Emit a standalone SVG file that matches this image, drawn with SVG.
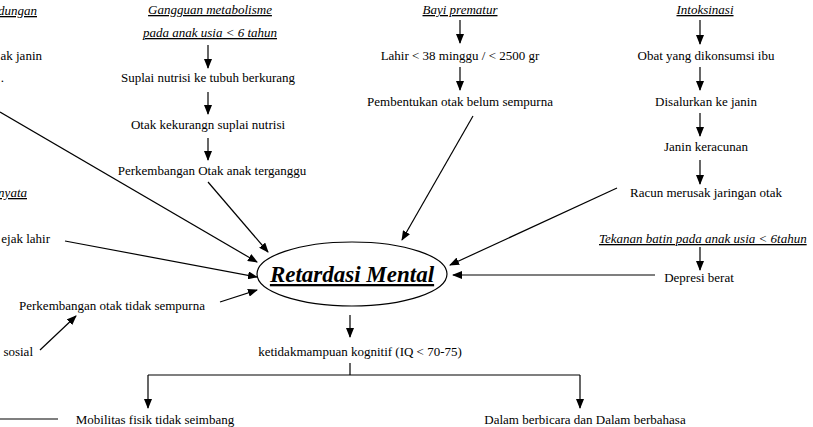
<svg xmlns="http://www.w3.org/2000/svg" width="813" height="427" viewBox="0 0 813 427">
<style>
text{font-family:'Liberation Serif','Times New Roman','DejaVu Serif',serif;font-size:13px;fill:#000}
.h{font-style:italic;text-decoration:underline}
.c{text-anchor:middle}
.e{text-anchor:end}
#connectors line{stroke:#000;stroke-width:1.2}
.a{marker-end:url(#ah)}
</style>
<defs><marker id="ah" markerWidth="10" markerHeight="8" refX="9" refY="4" orient="auto" markerUnits="userSpaceOnUse"><path d="M0,0L10,4L0,8Z" fill="#000"/></marker></defs>
<rect width="813" height="427" fill="#fff"/>
<g id="center"><ellipse cx="352" cy="274" rx="95" ry="32" fill="none" stroke="#000" stroke-width="1.2"/>
<text x="352" y="282" class="c" style="font-size:23px;font-weight:bold;font-style:italic;text-decoration:underline">Retardasi Mental</text></g>
<g id="left"><text x="37" y="15" class="e h">dungan</text><text x="42" y="60" class="e">ak janin</text><text x="4" y="82" class="e">.</text>
<text x="27" y="197" class="e h">nyata</text><text x="50" y="243" class="e">ejak lahir</text>
<text x="112" y="310" class="c">Perkembangan otak tidak sempurna</text><text x="33" y="356" class="e">sosial</text></g>
<g id="metab"><text x="210" y="14" class="c h">Gangguan metabolisme</text><text x="210" y="37" class="c h">pada anak usia &lt; 6 tahun</text>
<text x="208" y="82" class="c">Suplai nutrisi ke tubuh berkurang</text><text x="208" y="129" class="c">Otak kekurangn suplai nutrisi</text>
<text x="212" y="175" class="c">Perkembangan Otak anak terganggu</text></g>
<g id="prematur"><text x="460" y="14" class="c h">Bayi prematur</text><text x="460" y="60" class="c">Lahir &lt; 38  minggu / &lt; 2500 gr</text>
<text x="460" y="106" class="c">Pembentukan otak belum sempurna</text></g>
<g id="intoks"><text x="705" y="14" class="c h">Intoksinasi</text><text x="706" y="60" class="c">Obat yang dikonsumsi ibu</text>
<text x="706" y="106" class="c">Disalurkan ke janin</text><text x="706" y="151" class="c">Janin keracunan</text>
<text x="706" y="197" class="c">Racun merusak jaringan otak</text></g>
<g id="tekanan"><text x="599" y="243" class="h">Tekanan batin pada anak usia &lt; 6tahun</text><text x="699" y="282" class="c">Depresi berat</text></g>
<g id="bottom"><text x="360" y="356" class="c">ketidakmampuan kognitif (IQ &lt; 70-75)</text>
<text x="155" y="424" class="c">Mobilitas fisik tidak seimbang</text><text x="585" y="424" class="c">Dalam berbicara dan Dalam berbahasa</text></g>
<g id="connectors">
<line class="a" x1="208" y1="45" x2="208" y2="68"/><line class="a" x1="208" y1="92" x2="208" y2="114"/><line class="a" x1="208" y1="138" x2="208" y2="160"/>
<line class="a" x1="208" y1="182" x2="268" y2="252"/>
<line class="a" x1="0" y1="112" x2="257" y2="262"/>
<line class="a" x1="65" y1="241" x2="257" y2="277"/>
<line class="a" x1="220" y1="302" x2="257" y2="290"/>
<line class="a" x1="40" y1="350" x2="76" y2="316"/>
<line class="a" x1="460" y1="20" x2="460" y2="43"/><line class="a" x1="460" y1="67" x2="460" y2="90"/>
<line class="a" x1="473" y1="116" x2="402" y2="240"/>
<line class="a" x1="700" y1="20" x2="700" y2="44"/><line class="a" x1="700" y1="67" x2="700" y2="90"/><line class="a" x1="700" y1="113" x2="700" y2="136"/><line class="a" x1="700" y1="160" x2="700" y2="184"/>
<line class="a" x1="617" y1="188" x2="450" y2="265"/>
<line class="a" x1="700" y1="247" x2="700" y2="270"/>
<line class="a" x1="655" y1="275" x2="453" y2="275"/>
<line class="a" x1="350" y1="315" x2="350" y2="337"/>
<line x1="350" y1="363" x2="350" y2="375"/><line x1="148" y1="375" x2="580" y2="375"/>
<line class="a" x1="148" y1="375" x2="148" y2="408"/><line class="a" x1="580" y1="375" x2="580" y2="408"/>
<line x1="0" y1="419" x2="58" y2="419"/>
</g>
</svg>
